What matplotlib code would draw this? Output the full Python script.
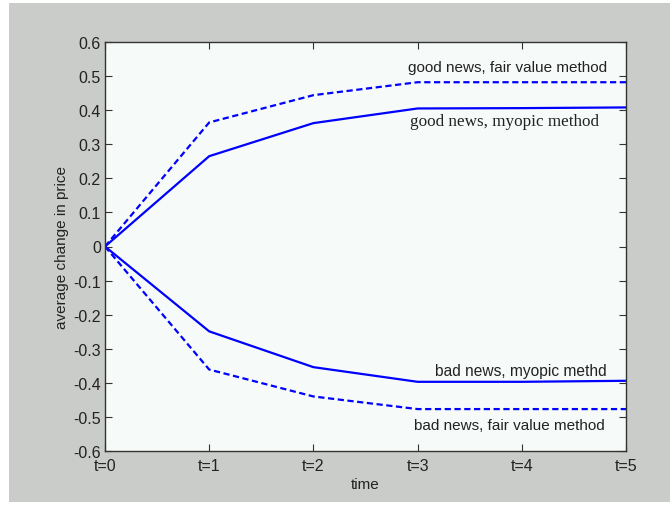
import matplotlib
matplotlib.use("Agg")
import matplotlib.pyplot as plt
from matplotlib.patches import Rectangle

# time steps and average price change per scenario
steps = [0, 1, 2, 3, 4, 5]
step_labels = ['t=0', 't=1', 't=2', 't=3', 't=4', 't=5']
good_fair = [0.0, 0.364, 0.444, 0.482, 0.482, 0.482]
good_myopic = [0.0, 0.265, 0.362, 0.405, 0.406, 0.408]
bad_myopic = [0.0, -0.249, -0.354, -0.397, -0.397, -0.394]
bad_fair = [0.0, -0.361, -0.440, -0.477, -0.477, -0.477]

y_ticks = [-0.6, -0.5, -0.4, -0.3, -0.2, -0.1, 0, 0.1, 0.2, 0.3, 0.4, 0.5, 0.6]
y_tick_labels = ['-0.6', '-0.5', '-0.4', '-0.3', '-0.2', '-0.1', '0',
                 '0.1', '0.2', '0.3', '0.4', '0.5', '0.6']

plt.rcParams['font.family'] = ['Liberation Sans', 'DejaVu Sans']

fig = plt.figure(figsize=(6.7, 5.06), dpi=100, facecolor='white')
# grey matlab-style window background, with a thin white border left/top/bottom
fig.patches.append(Rectangle((9 / 670, 3 / 506), 1 - 9 / 670, 1 - 7 / 506,
                             transform=fig.transFigure, facecolor='#c9ccc9',
                             edgecolor='none', zorder=-10))

ax = fig.add_axes([105 / 670, 1 - 452 / 506, 521 / 670, 409 / 506])
ax.set_facecolor('#f6faf8')

blue = '#0000ff'
ax.plot(steps, good_fair, color=blue, lw=1.6, ls='--', dashes=(2.8, 1.6))
ax.plot(steps, good_myopic, color=blue, lw=1.6)
ax.plot(steps, bad_myopic, color=blue, lw=1.6)
ax.plot(steps, bad_fair, color=blue, lw=1.6, ls='--', dashes=(2.8, 1.6))

ax.set_xlim(0, 5)
ax.set_ylim(-0.6, 0.6)
ax.set_xticks(steps)
ax.set_xticklabels(step_labels)
ax.set_yticks(y_ticks)
ax.set_yticklabels(y_tick_labels)

for s in ax.spines.values():
    s.set_color('#333333')
    s.set_linewidth(1.0)
ax.tick_params(direction='in', top=True, right=True, length=5, width=0.8,
               color='#333333', labelsize=11.5, labelcolor='#222222')
ax.tick_params(axis='x', pad=5)
ax.tick_params(axis='y', pad=3)

ax.set_xlabel('time', fontsize=11, color='#222222', labelpad=3)
ax.set_ylabel('average change in price', fontsize=11, color='#222222', labelpad=3)

# curve annotations
ax.text(4.82, 0.527, 'good news, fair value method', ha='right', va='center',
        fontsize=11, color='#222222')
ax.text(4.74, 0.369, 'good news, myopic method', ha='right', va='center',
        fontsize=12.3, color='#222222', family=['Liberation Serif', 'DejaVu Serif'])
ax.text(4.81, -0.363, 'bad news, myopic methd', ha='right', va='center',
        fontsize=11.2, color='#222222')
ax.text(4.80, -0.525, 'bad news, fair value method', ha='right', va='center',
        fontsize=11, color='#222222')

fig.savefig('out.png', dpi=100)
